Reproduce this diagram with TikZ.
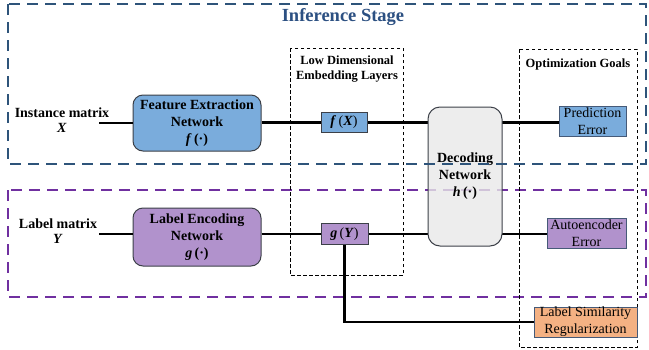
\documentclass[tikz,border=0pt]{standalone}
\usepackage{fontspec}
\setmainfont{Liberation Serif}
\usetikzlibrary{positioning}
\definecolor{grpblue}{RGB}{46,84,122}
\definecolor{titleblue}{RGB}{44,80,130}
\definecolor{grppurple}{RGB}{112,48,160}
\definecolor{fillblue}{RGB}{122,172,220}
\definecolor{fillpurple}{RGB}{177,146,204}
\definecolor{fillgray}{RGB}{232,232,232}
\definecolor{fillpeach}{RGB}{244,177,131}
\definecolor{edgegray}{RGB}{60,64,72}
\definecolor{edgeblue}{RGB}{70,90,120}
\tikzset{
  grpbox/.style={line width=2.8pt, dash pattern=on 11pt off 7pt},
  secbox/.style={draw=black, line width=0.8pt, dash pattern=on 3.5pt off 2.5pt},
  netbox/.style={draw=edgegray, line width=1pt, rounded corners=10pt, align=center, inner sep=0pt,
     font=\fontsize{14}{17}\selectfont\bfseries},
  embbox/.style={draw=edgegray, line width=1pt, inner sep=0pt, font=\fontsize{14}{15}\selectfont},
  goalbox/.style={draw=edgeblue, line width=1pt, inner sep=0pt, align=center, font=\fontsize{14}{17}\selectfont},
  conn/.style={line width=2.8pt, black},
  lbl/.style={align=center, inner sep=0pt, font=\fontsize{14}{15}\selectfont\bfseries},
  sechead/.style={align=center, inner sep=0pt, font=\fontsize{12.5}{15}\selectfont\bfseries}
}
\newcommand{\bi}[1]{\textbf{\textit{#1}}}
\begin{document}
\begin{tikzpicture}[x=1pt,y=-1pt]
\useasboundingbox (0,0) rectangle (649,349);
% purple group
\draw[grpbox, draw=grppurple] (8,190) rectangle (646,297);
% section boxes
\draw[secbox] (290,48) rectangle (403,275);
\draw[secbox] (519,49) rectangle (637,347);
\node[sechead] (lowhead) at (347,69.5) {Low Dimensional\\Embedding Layers};
\node[sechead] (opthead) at (578,64) {Optimization Goals};
% input labels
\node[lbl] (inst) at (62,120) {Instance matrix\\\bi{X}};
\node[lbl] (labm) at (58,231) {Label matrix\\\bi{Y}};
\coordinate (instend) at (99,123);
\coordinate (labend) at (99,234);
% networks
\node[netbox, fill=fillblue, minimum width=128pt, minimum height=56pt] (fen) at (197,123) {Feature Extraction\\Network\\\bi{f}\,(\textperiodcentered)};
\node[netbox, fill=fillpurple, minimum width=128pt, minimum height=58pt] (len) at (197,237) {Label Encoding\\Network\\\bi{g}\,(\textperiodcentered)};
% embeddings
\node[embbox, fill=fillblue, minimum width=46pt, minimum height=20pt] (fx) at (344,122.5) {\bi{f}\,(\bi{X})};
\node[embbox, fill=fillpurple, minimum width=47pt, minimum height=21pt] (gy) at (344.5,234) {\bi{g}\,(\bi{Y})};
% goals
\node[goalbox, fill=fillblue, minimum width=67pt, minimum height=30pt] (pe) at (592.5,121) {Prediction\\Error};
\node[goalbox, fill=fillpurple, minimum width=79pt, minimum height=30pt] (ae) at (586.5,233) {Autoencoder\\Error};
\node[goalbox, fill=fillpeach, minimum width=103pt, minimum height=30pt] (lsr) at (585.5,322) {Label Similarity\\Regularization};
% connectors
\draw[conn] (instend) -- (fen.west |- instend);
\draw[conn] (labend) -- (len.west |- labend);
\draw[conn] (fen.east |- fx) -- (fx.west);
\draw[conn] (len.east |- gy) -- (gy.west);
\draw[conn] (fx.east) -- (428,122.5) coordinate (decin1);
\draw[conn] (gy.east) -- (428,234) coordinate (decin2);
\draw[conn] (502,122.5) -- (pe.west |- 502,122.5);
\draw[conn] (502,234) -- (ae.west |- 502,234);
\draw[conn] (gy.south) |- (lsr.west);
% decoding
\node[netbox, fill=fillgray, fill opacity=0.8, text opacity=1, minimum width=74pt, minimum height=139pt, rounded corners=12pt] (dec) at (465,176.5) {Decoding\\Network\\\bi{h}\,(\textperiodcentered)};
% blue group on top
\draw[grpbox, draw=grpblue] (8,4) rectangle (646,164);
\node[font=\fontsize{18.5}{20}\selectfont\bfseries, text=titleblue, inner sep=0pt] (title) at (343,17) {Inference Stage};
\end{tikzpicture}
\end{document}
